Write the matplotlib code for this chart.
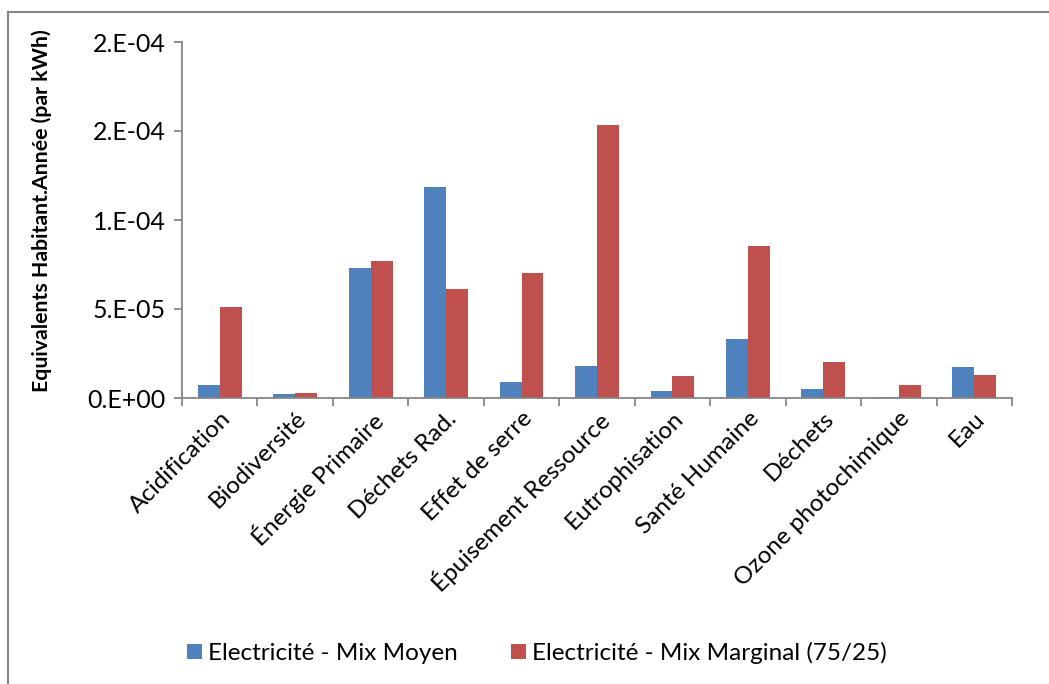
import matplotlib.pyplot as plt
import matplotlib.transforms as mtransforms
import numpy as np
from matplotlib.lines import Line2D

plt.rcParams['font.family'] = ['Lato', 'DejaVu Sans']

# --- data ---
categories = ["Acidification", "Biodiversité", "Énergie Primaire", "Déchets Rad.",
              "Effet de serre", "Épuisement Ressource", "Eutrophisation",
              "Santé Humaine", "Déchets", "Ozone photochimique", "Eau"]
mix_moyen = [7.3e-6, 2.2e-6, 7.3e-5, 1.185e-4, 9.0e-6, 1.8e-5, 3.9e-6,
             3.3e-5, 5.0e-6, 0.8e-6, 1.75e-5]
mix_marginal = [5.1e-5, 2.8e-6, 7.7e-5, 6.1e-5, 7.0e-5, 1.535e-4, 1.24e-5,
                8.55e-5, 2.0e-5, 7.3e-6, 1.3e-5]
yticks = [0, 5e-5, 1e-4, 1.5e-4, 2e-4]
ytick_labels = ["0.E+00", "5.E-05", "1.E-04", "2.E-04", "2.E-04"]

BLUE = '#4F81BD'
RED = '#C0504D'
GRID = '#868686'

fig = plt.figure(figsize=(10.49, 6.84), dpi=100)
ax = fig.add_axes([182/1049, 1-398/684, (1012-182)/1049, (398-42)/684])

x = np.arange(len(categories))
w = 0.29
ax.bar(x - w/2, mix_moyen, w, color=BLUE, label="Electricité - Mix Moyen")
ax.bar(x + w/2, mix_marginal, w, color=RED, label="Electricité - Mix Marginal (75/25)")

ax.set_xlim(-0.5, len(categories) - 0.5)
ax.set_ylim(0, 2e-4)
ax.set_yticks(yticks)
ax.set_yticklabels(ytick_labels)

ax.set_xticks(x)
ax.set_xticklabels(categories, rotation=45, ha='right', rotation_mode='anchor', fontsize=17.5)
# nudge the rotated labels a bit to the right, like the original
shift = mtransforms.ScaledTranslation(12/100, 0, fig.dpi_scale_trans)
for lbl in ax.get_xticklabels():
    lbl.set_transform(lbl.get_transform() + shift)
ax.set_xticks(np.arange(-0.5, len(categories)), minor=True)
ax.tick_params(axis='x', which='major', length=0, pad=7)
ax.tick_params(axis='x', which='minor', length=6, color=GRID, width=1.3)
ax.tick_params(axis='y', length=6, color=GRID, width=1.3, labelsize=18, pad=6)

for s in ['top', 'right']:
    ax.spines[s].set_visible(False)
for s in ['left', 'bottom']:
    ax.spines[s].set_color(GRID)
    ax.spines[s].set_linewidth(1.3)

fig.text(42/1049, 1-211/684, "Equivalents Habitant.Année (par kWh)", rotation=90,
         ha='center', va='center', fontsize=15.3, fontweight='bold')

fig.legend(loc='center', bbox_to_anchor=(537/1049, 1-653/684), ncol=2, frameon=False,
           fontsize=17.5, handlelength=0.62, handleheight=0.62, handletextpad=0.25,
           columnspacing=2.2)

# chart-area frame: only the top and left edges show in the crop
fx, fy = 8/1049, 1-12/684
fig.lines.append(Line2D([fx, 1], [fy, fy], transform=fig.transFigure, color=GRID, lw=1.5))
fig.lines.append(Line2D([fx, fx], [fy, 0], transform=fig.transFigure, color=GRID, lw=1.5))

fig.savefig("out.png", dpi=100)
